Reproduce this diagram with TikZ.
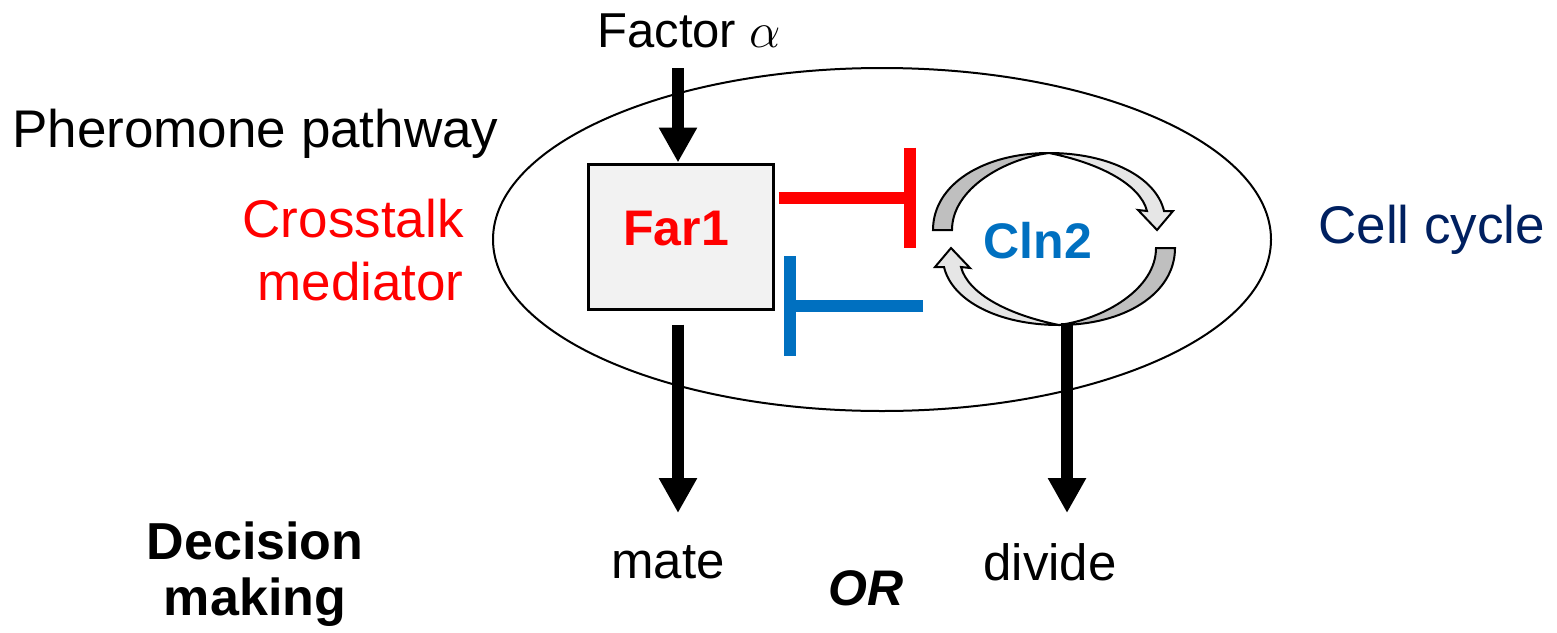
\documentclass[tikz,border=0pt]{standalone}
\usepackage{fontspec}
\setmainfont{Liberation Sans}
\usetikzlibrary{arrows.meta}

\definecolor{inhred}{HTML}{FF0000}
\definecolor{inhblue}{HTML}{0070C0}
\definecolor{cyclenavy}{HTML}{002060}
\definecolor{boxgray}{HTML}{F2F2F2}
\definecolor{ringdark}{HTML}{BFBFBF}
\definecolor{ringlight}{HTML}{E6E6E6}

% one half of the turning cycle: dark back fold plus light front band with head
\newcommand\ringhalf{%
  \filldraw[ringpart, fill=ringdark]
    (-121,-9) .. controls (-121,-55) and (-70,-86) .. (-5,-86)
    .. controls (-50,-80) and (-102,-50) .. (-102,-9) -- cycle;
  \filldraw[ringpart, fill=ringlight]
    (-5,-86) .. controls (55,-86) and (102,-62) .. (110,-28)
    -- (119,-28) -- (103,-9) -- (84,-29) -- (93,-28)
    .. controls (86,-55) and (45,-76) .. (-5,-86) -- cycle;
}

\begin{document}
\begin{tikzpicture}[x=0.5pt,y=-0.5pt,
  txt/.style={inner sep=0pt, font=\fontsize{26.5}{30}\selectfont},
  boldtxt/.style={inner sep=0pt, font=\fontsize{25}{30}\selectfont\bfseries},
  fat/.style={line width=6pt, -{Triangle[width=18pt,length=17.5pt]}},
  inhr/.style={line width=6pt, draw=inhred},
  inhb/.style={line width=6pt, draw=inhblue},
  ringpart/.style={draw=black, line width=1pt, line join=miter},
]
\useasboundingbox (0,0) rectangle (1557,632);

% cell outline
\draw[line width=1pt] (882,239.5) ellipse [x radius=389, y radius=171.5];

% labels outside the cell
\node[txt, anchor=base west] (factor) at (597,47)
  {\fontsize{24.5}{30}\selectfont Factor {\fontsize{30}{30}\selectfont$\alpha$}};
\node[txt, anchor=base west] (phero) at (12,147) {Pheromone pathway};
\node[txt, anchor=base east, align=right, text=inhred,
      font=\fontsize{26.5}{31.5}\selectfont] (cross) at (464,300) {Crosstalk\\mediator};
\node[txt, anchor=base west, text=cyclenavy] (cellcycle) at (1318,243) {Cell cycle};
\node[boldtxt, anchor=base, align=center,
      font=\fontsize{26}{28}\selectfont\bfseries] (decision) at (255,615) {Decision\\making};
\node[txt, anchor=base, font=\fontsize{25.5}{30}\selectfont] (mate) at (668,578) {mate};
\node[txt, anchor=base, font=\fontsize{25.5}{30}\selectfont] (divide) at (1050,580) {divide};
\node[inner sep=0pt, anchor=base, font=\fontsize{25}{30}\selectfont\bfseries\itshape] (or) at (866,605) {OR};

% Far1 box
\node[draw, line width=1.5pt, fill=boxgray, minimum width=92.5pt, minimum height=72.5pt,
      inner sep=0pt] (far1) at (680.5,236.5) {};
\node[boldtxt, anchor=base, text=inhred] (far1txt) at (676,245) {Far1};

% Cln2 and its cycle
\begin{scope}[shift={(1054,239)}]
  \ringhalf
  \begin{scope}[rotate=180]
    \ringhalf
  \end{scope}
\end{scope}
\node[boldtxt, anchor=base, text=inhblue] (cln2) at (1038,258) {Cln2};

% signal arrows
\coordinate (fa) at (678,68);
\draw[fat] (fa) -- (fa |- far1.north);
\coordinate (mateend) at (678,513);
\draw[fat, shorten <=7pt] (mateend |- far1.south) -- (mateend);
\coordinate (cycbottom) at (1067,323);
\coordinate (divend) at (1067,513);
\draw[fat] (cycbottom) -- (divend);

% mutual inhibition
\coordinate (redbar) at (910,197.5);
\draw[inhr, shorten <=2pt] (far1.east |- redbar) -- ([xshift=3pt]redbar);
\draw[inhr] ([yshift=25pt]redbar) -- ([yshift=-25pt]redbar);
\coordinate (bluebar) at (790,306);
\coordinate (bluestart) at (923,306);
\draw[inhb] (bluestart) -- ([xshift=-3pt]bluebar);
\draw[inhb] ([yshift=25pt]bluebar) -- ([yshift=-25pt]bluebar);
\end{tikzpicture}
\end{document}
